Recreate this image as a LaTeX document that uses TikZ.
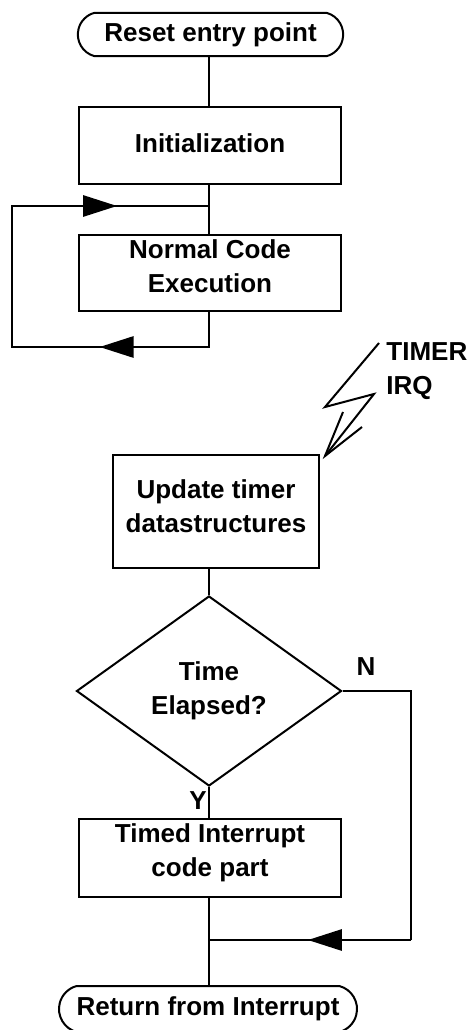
\documentclass[tikz,border=0pt]{standalone}
\usepackage{fontspec}
\setmainfont{Liberation Sans}
\usetikzlibrary{arrows.meta,decorations.markings,shapes.geometric,shapes.misc}
\begin{document}
\begin{tikzpicture}[x=0.75pt,y=-0.75pt,line width=1.5pt,
  txt/.style={font=\bfseries\fontsize{19.5}{25.5}\selectfont, align=center},
  box/.style={draw, rectangle, inner sep=0pt},
  boxtext/.style={label={[txt, yshift=#1]center:{\labeltext}}},
  term/.style={txt, draw, rounded rectangle, rounded rectangle arc length=150, inner sep=0pt},
  dec/.style={txt, draw, diamond, aspect=1.39, inner sep=0pt},
  arrowmark/.style={postaction={decorate}, decoration={markings, mark=at position #1 with {\arrow{Triangle[length=25.5pt,width=16pt]}}}}
]
\useasboundingbox (0,0) rectangle (468,1030);
\coordinate (ax) at (209,0);
% nodes
\node[term, minimum width=199pt, minimum height=32.5pt] (reset) at (210.5,34.5) {Reset entry point};
\node[box, minimum width=196.5pt, minimum height=57.75pt,
      label={[txt, yshift=1.5pt]center:{Initialization}}] (init) at (210,145.5) {};
\node[box, minimum width=196.5pt, minimum height=57pt,
      label={[txt, yshift=5pt]center:{Normal Code\\Execution}}] (nce) at (210,273) {};
\node[box, minimum width=154.5pt, minimum height=84.75pt,
      label={[txt, yshift=4pt]center:{Update timer\\datastructures}}] (upd) at (216,511.5) {};
\node[dec, minimum width=198.75pt, minimum height=142.5pt] (dia) at (209,691) {Time\\Elapsed?};
\node[box, minimum width=196.5pt, minimum height=58.5pt,
      label={[txt, yshift=4pt]center:{Timed Interrupt\\code part}}] (tic) at (210,858) {};
\node[term, minimum width=223.5pt, minimum height=34.5pt] (ret) at (208,1009) {Return from Interrupt};
% labels
\node[txt, align=left, anchor=west] (timer) at (381,371.5) {TIMER\\IRQ};
\node[txt] (nlab) at (366,667) {N};
\node[txt] (ylab) at (198,801) {Y};
% connectors
\draw (reset.south -| ax) -- (init.north -| ax);
\draw (init.south -| ax) -- (nce.north -| ax);
\coordinate (lpTL) at (12,206);
\coordinate (lpBL) at (12,347);
\draw (nce.south -| ax) -- (ax |- lpBL) -- (lpBL) -- (lpTL) -- (ax |- lpTL);
\draw[arrowmark=0.555] (ax |- lpBL) -- (lpBL);
\draw[arrowmark=0.533] (lpTL) -- (ax |- lpTL);
\draw (upd.south -| ax) -- (dia.north);
\draw (dia.south) -- (tic.north -| ax);
\draw (tic.south -| ax) -- (ret.north -| ax);
\coordinate (nR1) at (411,685);
\coordinate (mrg) at (209,940);
\draw (dia.east) -- (nR1 |- dia.east) -- (nR1 |- mrg);
\draw[arrowmark=0.51] (nR1 |- mrg) -- (mrg);
% lightning bolt
\coordinate (b1) at (379,343);
\coordinate (b2) at (325,407);
\coordinate (b3) at (374,394);
\coordinate (tip) at (325,456);
\coordinate (bA) at (343,412);
\coordinate (bB) at (362,427);
\draw (b1) -- (b2) -- (b3) -- (tip);
\draw (bA) -- (tip) -- (bB);
\end{tikzpicture}
\end{document}
